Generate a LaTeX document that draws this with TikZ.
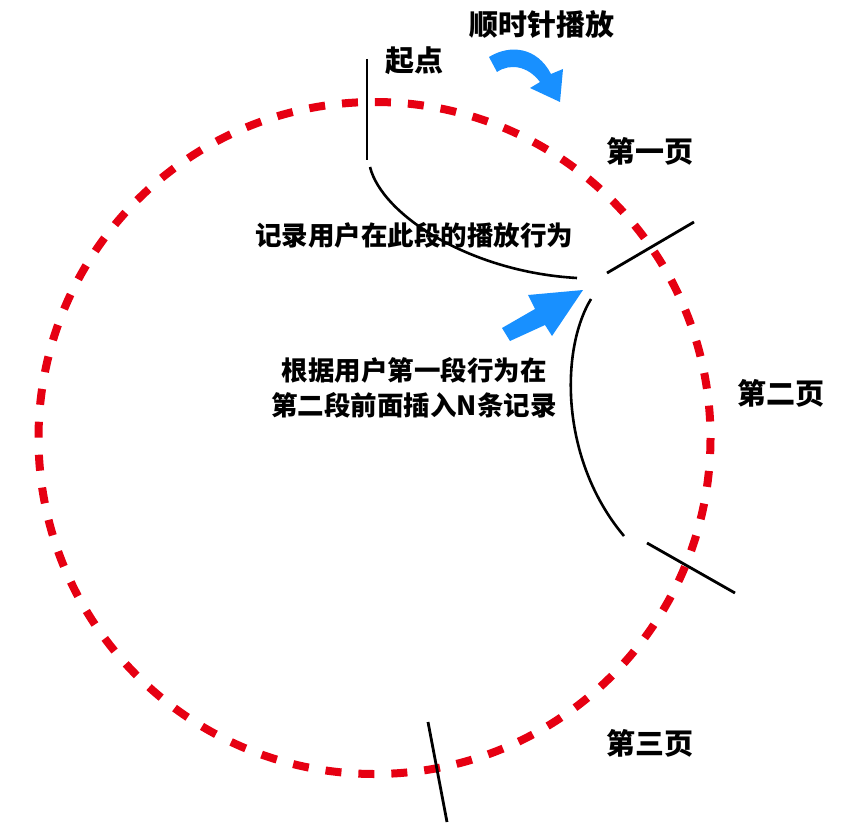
\documentclass[tikz,border=0pt]{standalone}
\usepackage{fontspec}
\newfontfamily\cjk{Noto Sans CJK SC}
\usetikzlibrary{positioning}
\definecolor{ringred}{RGB}{230,0,18}
\definecolor{playblue}{RGB}{24,144,255}

\begin{document}
\begin{tikzpicture}[x=1pt, y=-1pt,
  pagelabel/.style={font=\cjk\bfseries\fontsize{29}{35}\selectfont, inner sep=0pt},
  note/.style={font=\cjk\bfseries\fontsize{26.5}{35}\selectfont, align=center, inner sep=0pt},
  cut/.style={black, line width=2.8pt},
  track/.style={black, line width=2.6pt}]
\useasboundingbox (0,0) rectangle (858,834);

% dashed playing ring
\draw[ringred, line width=8pt, dash pattern=on 16pt off 17pt] (374.5,438) circle[radius=336];

% page cuts
\foreach \xa/\ya/\xb/\yb in {367/59/367/160, 607/273/694/222, 647/543/735/593, 428/722/447/822}
  \draw[cut] (\xa,\ya) -- (\xb,\yb);

% tracked segments
\coordinate (seg1 start) at (370,167);
\coordinate (seg1 end) at (577,278);
\coordinate (seg2 start) at (591,299);
\coordinate (seg2 end) at (624,536);
\draw[track] (seg1 start) .. controls (382,215) and (470,272) .. (seg1 end);
\draw[track] (seg2 start) .. controls (560,350) and (560,460) .. (seg2 end);

% labels
\node[pagelabel] (clockwise) at (542,25) {顺时针播放};
\node[pagelabel] (start) at (414,61) {起点};
\node[pagelabel] (page1) at (650,151) {第一页};
\node[pagelabel] (page2) at (781,393) {第二页};
\node[pagelabel] (page3) at (650,743) {第三页};
\node[note] (record) at (414,235) {记录用户在此段的播放行为};
\node[note] (insert) at (414,388) {根据用户第一段行为在\\第二段前面插入N条记录};

% blue arrows
\fill[playblue] (489,57) .. controls (510,44) and (537,47) .. (551,74) -- (563,69) -- (560,102)
  -- (530,88) -- (540,82) .. controls (528,66) and (510,63) .. (497,72) -- cycle;
\fill[playblue] (502,328) -- (535,309) -- (528,295) -- (583,290) -- (552,336) -- (545,325)
  -- (510,341) -- cycle;
\end{tikzpicture}
\end{document}
